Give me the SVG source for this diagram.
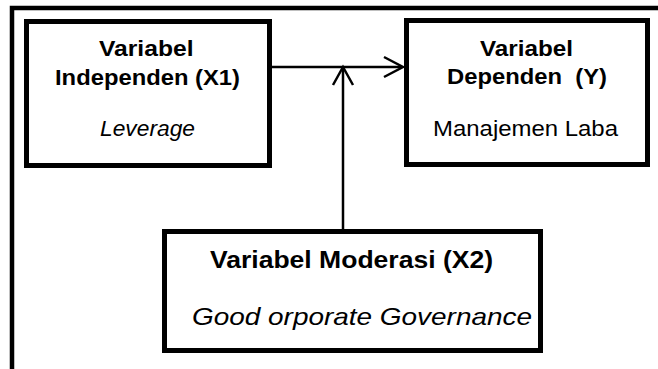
<svg xmlns="http://www.w3.org/2000/svg" width="658" height="369" viewBox="0 0 658 369">
  <style>
    .frame { fill: none; stroke: #000; stroke-width: 4.5; stroke-linejoin: miter; }
    .box { fill: #fff; stroke: #000; stroke-width: 5; }
    .wire { fill: none; stroke: #000; stroke-width: 2.5; }
    .head { fill: none; stroke: #000; stroke-width: 2.5; stroke-linejoin: miter; }
    text { font-family: "Liberation Sans", Arial, sans-serif; fill: #000; }
    .t { font-size: 21.5px; }
    .b { font-size: 24px; }
    .bold { font-weight: bold; }
    .it { font-style: italic; }
  </style>

  <rect x="0" y="0" width="658" height="369" fill="#fff"/>

  <!-- page frame: top and left edges -->
  <path class="frame" d="M12,369 V8 H662"/>

  <!-- connectors -->
  <g id="connectors">
    <line class="wire" x1="263" y1="67" x2="402" y2="67"/>
    <polyline class="head" points="384,57 403,67 384,77"/>
    <line class="wire" x1="343" y1="235" x2="343" y2="68"/>
    <polyline class="head" points="333,85 343,67 353,85"/>
  </g>

  <!-- independent variable -->
  <g id="node-x1">
    <rect class="box" x="26.5" y="21.5" width="243" height="144"/>
    <text class="t bold" x="99" y="56" textLength="94.5" lengthAdjust="spacingAndGlyphs">Variabel</text>
    <text class="t bold" x="55" y="84.5" textLength="185" lengthAdjust="spacingAndGlyphs">Independen (X1)</text>
    <text class="t it" x="100" y="135.5" textLength="95" lengthAdjust="spacingAndGlyphs">Leverage</text>
  </g>

  <!-- dependent variable -->
  <g id="node-y">
    <rect class="box" x="406.5" y="20.5" width="241" height="144"/>
    <text class="t bold" x="480" y="55.5" textLength="93" lengthAdjust="spacingAndGlyphs">Variabel</text>
    <text class="t bold" x="447" y="84" textLength="160" lengthAdjust="spacingAndGlyphs" xml:space="preserve">Dependen  (Y)</text>
    <text class="t" x="433" y="136" textLength="185" lengthAdjust="spacingAndGlyphs">Manajemen Laba</text>
  </g>

  <!-- moderating variable -->
  <g id="node-x2">
    <rect class="box" x="164.5" y="231.5" width="376" height="119"/>
    <text class="b bold" x="210" y="267.5" textLength="283" lengthAdjust="spacingAndGlyphs">Variabel Moderasi (X2)</text>
    <text class="b it" x="192" y="325" textLength="340" lengthAdjust="spacingAndGlyphs">Good orporate Governance</text>
  </g>
</svg>
